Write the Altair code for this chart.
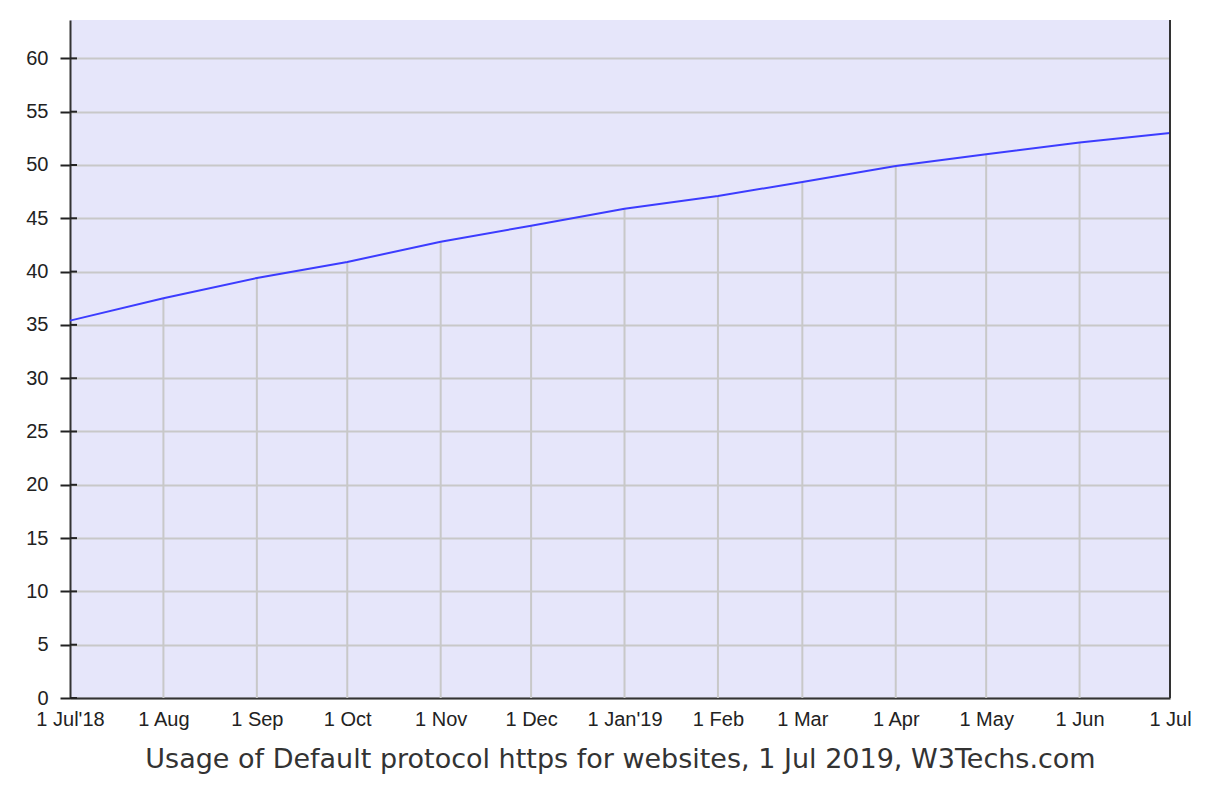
import altair as alt
import pandas as pd

dates = ["2018-07-01", "2018-08-01", "2018-09-01", "2018-10-01", "2018-11-01",
         "2018-12-01", "2019-01-01", "2019-02-01", "2019-03-01", "2019-04-01",
         "2019-05-01", "2019-06-01", "2019-07-01"]
values = [35.4, 37.5, 39.4, 40.9, 42.8, 44.3, 45.9, 47.1, 48.4, 49.9, 51.0, 52.1, 53.0]
y_ticks = [0, 5, 10, 15, 20, 25, 30, 35, 40, 45, 50, 55, 60]
title_text = "Usage of Default protocol https for websites, 1 Jul 2019, W3Techs.com"

df = pd.DataFrame({"date": dates, "value": values})
grid_df = df.iloc[1:-1].copy()
ticks_df = pd.DataFrame({"t": y_ticks})
end_df = pd.DataFrame({"date": [dates[-1]]})

W, H = 1100, 678
YMAX = 63.6

xscale = alt.Scale(type="utc", domain=[dates[0], dates[-1]], nice=False)
yscale = alt.Scale(domain=[0, YMAX], nice=False, zero=True)

label_expr = ("(utcmonth(datum.value)==0 || (utcyear(datum.value)==2018 && utcmonth(datum.value)==6))"
              " ? '1 ' + utcFormat(datum.value,'%b') + \"'\" + utcFormat(datum.value,'%y')"
              " : '1 ' + utcFormat(datum.value,'%b')")

x_axis = alt.Axis(
    values=[alt.DateTime(year=int(d[:4]), month=int(d[5:7]), date=1, utc=True) for d in dates],
    labelExpr=label_expr, grid=False, ticks=False, domain=True,
    domainColor="#333333", domainWidth=2,
    labelFont="Liberation Sans", labelFontSize=20, labelColor="#222222", labelPadding=11,
    labelFlush=False, labelOverlap=False,
    title=title_text, titleFont="DejaVu Sans", titleFontSize=27, titleFontWeight="normal",
    titleColor="#333333", titlePadding=17,
)
y_axis = alt.Axis(
    values=y_ticks, grid=True, gridColor="#c8c8c8", gridWidth=2,
    domain=True, domainColor="#333333", domainWidth=2,
    ticks=True, tickColor="#222222", tickSize=10, tickWidth=2,
    labelFont="Liberation Sans", labelFontSize=20, labelColor="#222222", labelPadding=12,
    title=None,
)

vgrid = alt.Chart(grid_df).mark_rule(color="#c8c8c8", strokeWidth=2).encode(
    x=alt.X("date:T", scale=xscale, axis=x_axis),
    y=alt.Y("zero:Q", scale=yscale, axis=y_axis),
    y2="value:Q",
).transform_calculate(zero="0")

line = alt.Chart(df).mark_line(color="#3c3cff", strokeWidth=2).encode(
    x=alt.X("date:T", scale=xscale),
    y=alt.Y("value:Q", scale=yscale),
)

inner_ticks = alt.Chart(ticks_df).mark_rule(color="#222222", strokeWidth=2).encode(
    x=alt.value(0), x2=alt.value(7),
    y=alt.Y("t:Q", scale=yscale),
)

right_border = alt.Chart(end_df).mark_rule(color="#333333", strokeWidth=2).encode(
    x=alt.X("date:T", scale=xscale),
    y=alt.value(0), y2=alt.value(H),
)

chart = alt.layer(vgrid, line, inner_ticks, right_border).properties(
    width=W, height=H,
    autosize=alt.AutoSizeParams(type="none"),
    padding={"left": 62, "top": 12, "right": 34, "bottom": 100},
    background="white",
).configure_view(fill="#e6e6fa", stroke=None)

chart.save("out.html", embed_options={"renderer": "svg", "actions": False})
